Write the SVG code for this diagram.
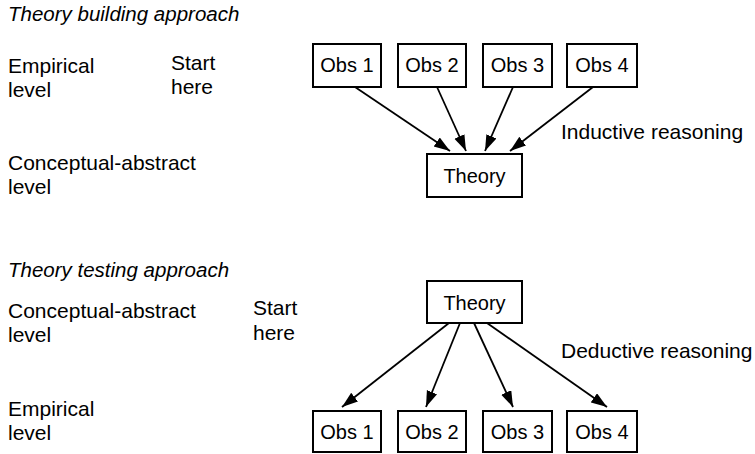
<svg xmlns="http://www.w3.org/2000/svg" width="755" height="454" viewBox="0 0 755 454">
<style>
text{font-family:"Liberation Sans",Arial,sans-serif;font-size:20px;fill:#000}
.lbl{font-size:21px}
.it{font-style:italic;font-size:20.5px}
.box{fill:#fff;stroke:#000;stroke-width:2}
.c{text-anchor:middle}
.edge{stroke:#000;stroke-width:1.8;fill:none;marker-end:url(#ah)}
</style>
<defs>
<marker id="ah" markerUnits="userSpaceOnUse" markerWidth="17" markerHeight="12" refX="16" refY="5.5" orient="auto">
<path d="M0,0 L16,5.5 L0,11 z" fill="#000"/>
</marker>
</defs>
<rect width="755" height="454" fill="#fff"/>
<g id="labels">
<text class="it" x="8" y="21">Theory building approach</text>
<text class="lbl" x="8" y="73">Empirical</text>
<text class="lbl" x="8" y="97">level</text>
<text class="lbl" x="171" y="70">Start</text>
<text class="lbl" x="171" y="94">here</text>
<text class="lbl" x="8" y="170">Conceptual-abstract</text>
<text class="lbl" x="8" y="194">level</text>
<text class="lbl" x="561" y="139">Inductive reasoning</text>
<text class="it" x="8" y="277">Theory testing approach</text>
<text class="lbl" x="8" y="318">Conceptual-abstract</text>
<text class="lbl" x="8" y="342">level</text>
<text class="lbl" x="253" y="315">Start</text>
<text class="lbl" x="253" y="340">here</text>
<text class="lbl" x="8" y="416">Empirical</text>
<text class="lbl" x="8" y="440">level</text>
<text class="lbl" x="561" y="358">Deductive reasoning</text>
</g>
<g id="connectors">
<line class="edge" x1="355" y1="87" x2="450" y2="151"/>
<line class="edge" x1="437" y1="87" x2="466" y2="151"/>
<line class="edge" x1="513" y1="87" x2="485" y2="151"/>
<line class="edge" x1="593" y1="87" x2="510" y2="151"/>
<line class="edge" x1="449" y1="323" x2="342" y2="407"/>
<line class="edge" x1="460" y1="323" x2="426" y2="407"/>
<line class="edge" x1="474" y1="323" x2="513" y2="407"/>
<line class="edge" x1="487" y1="323" x2="607" y2="407"/>
</g>
<g id="top-obs1"><rect class="box" x="313" y="44" width="68" height="43"/><text class="c" x="347" y="72">Obs 1</text></g>
<g id="top-obs2"><rect class="box" x="398" y="44" width="68" height="43"/><text class="c" x="432" y="72">Obs 2</text></g>
<g id="top-obs3"><rect class="box" x="483" y="44" width="69" height="43"/><text class="c" x="517.5" y="72">Obs 3</text></g>
<g id="top-obs4"><rect class="box" x="567" y="44" width="70" height="43"/><text class="c" x="602" y="72">Obs 4</text></g>
<g id="top-theory"><rect class="box" x="427" y="154" width="95" height="43"/><text class="c" x="474.5" y="183">Theory</text></g>
<g id="bottom-theory"><rect class="box" x="427" y="281" width="95" height="42"/><text class="c" x="474.5" y="310">Theory</text></g>
<g id="bottom-obs1"><rect class="box" x="313" y="411" width="68" height="41"/><text class="c" x="347" y="439">Obs 1</text></g>
<g id="bottom-obs2"><rect class="box" x="398" y="411" width="68" height="41"/><text class="c" x="432" y="439">Obs 2</text></g>
<g id="bottom-obs3"><rect class="box" x="483" y="411" width="69" height="41"/><text class="c" x="517.5" y="439">Obs 3</text></g>
<g id="bottom-obs4"><rect class="box" x="567" y="411" width="70" height="41"/><text class="c" x="602" y="439">Obs 4</text></g>
</svg>
